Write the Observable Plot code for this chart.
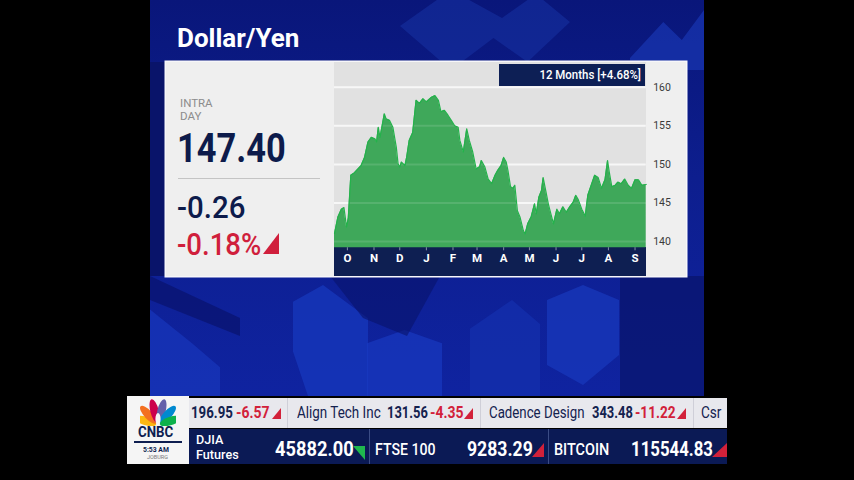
<!DOCTYPE html>
<html>
<head>
<meta charset="utf-8">
<script src="https://cdn.jsdelivr.net/npm/d3@7"></script>
<script src="https://cdn.jsdelivr.net/npm/@observablehq/plot@0.6"></script>
<style>
html,body{margin:0;padding:0;background:#000;width:854px;height:480px;overflow:hidden;font-family:Roboto,"Noto Sans",sans-serif;}
#stage{position:relative;width:854px;height:480px;background:#000;overflow:hidden;}
.a{position:absolute;}
.t{position:absolute;white-space:nowrap;line-height:1;transform-origin:left top;}
.shape{position:absolute;}
.triR{clip-path:polygon(0 100%,100% 0,100% 100%);}
.triG{clip-path:polygon(0 0,100% 0,100% 100%);}
</style>
</head>
<body>
<div id="stage">
  <!-- blue studio panel -->
  <div class="a" style="left:150px;top:0;width:554px;height:396px;background:linear-gradient(180deg,#09167a 0%,#0d1e8e 45%,#0f23a0 100%);overflow:hidden;">
    <div class="shape" style="left:250px;top:-10px;width:170px;height:80px;background:#1630a0;opacity:.6;clip-path:polygon(0 45%,30% 0,60% 35%,80% 5%,100% 40%,75% 90%,55% 60%,30% 100%);"></div>
    <div class="shape" style="left:480px;top:10px;width:74px;height:60px;background:#1836b2;opacity:.7;clip-path:polygon(0 80%,45% 20%,70% 50%,100% 0,100% 100%,0 100%);"></div>
    <div class="shape" style="left:0;top:300px;width:70px;height:96px;background:#1634b8;opacity:.8;clip-path:polygon(0 10%,60% 45%,100% 70%,100% 100%,0 100%);"></div>
    <div class="shape" style="left:0;top:276px;width:90px;height:60px;background:#08136c;opacity:.7;clip-path:polygon(0 40%,100% 100%,100% 70%,0 0);"></div>
    <div class="shape" style="left:143px;top:285px;width:75px;height:111px;background:#1738bc;opacity:.75;clip-path:polygon(0 15%,40% 0,100% 30%,100% 100%,20% 100%,0 60%);"></div>
    <div class="shape" style="left:217px;top:330px;width:75px;height:66px;background:#1839c0;opacity:.7;clip-path:polygon(0 20%,50% 0,100% 20%,100% 100%,0 100%);"></div>
    <div class="shape" style="left:180px;top:276px;width:110px;height:60px;background:#08136a;opacity:.6;clip-path:polygon(0 0,100% 0,70% 100%,30% 70%);"></div>
    <div class="shape" style="left:320px;top:300px;width:70px;height:96px;background:#1431ae;opacity:.7;clip-path:polygon(0 30%,60% 0,100% 25%,100% 100%,0 100%);"></div>
    <div class="shape" style="left:397px;top:285px;width:72px;height:100px;background:#1838bb;opacity:.75;clip-path:polygon(0 15%,50% 0,100% 15%,100% 70%,50% 100%,0 80%);"></div>
    <div class="shape" style="left:470px;top:276px;width:84px;height:120px;background:#09146a;opacity:.7;"></div>
    <div class="shape" style="left:0;top:62px;width:16px;height:214px;background:#09146a;"></div>
  </div>

  <!-- title -->
  <div class="t" style="left:177px;top:25px;font-size:26px;font-weight:700;color:#fff;">Dollar/Yen</div>

  <!-- card -->
  <div class="a" style="left:166px;top:62px;width:520px;height:214px;background:#efefef;box-shadow:0 0 0 1.5px #f7f7fa;"></div>
  <div class="a" style="left:334px;top:62px;width:311.7px;height:185.3px;background:#e1e1e1;"></div>
  <div class="a" style="left:334px;top:247.3px;width:311.7px;height:28.7px;background:#0e1f52;"></div>

  <!-- left summary -->
  <div class="t" style="left:180px;top:96.5px;font-size:11.5px;line-height:13.5px;color:#8c8c8c;">INTRA</div>
  <div class="t" style="left:180px;top:110px;font-size:11.5px;line-height:13.5px;color:#8c8c8c;">DAY</div>
  <div class="t" style="left:177px;top:129.3px;font-size:40px;font-weight:700;color:#0d1b4b;transform:scaleX(.86);">147.40</div>
  <div class="a" style="left:178px;top:178px;width:142px;height:1px;background:#c4c4c4;"></div>
  <div class="t" style="left:177px;top:191.4px;font-size:32px;font-weight:500;color:#0d1b4b;transform:scaleX(.92);">-0.26</div>
  <div class="t" style="left:177px;top:228px;font-size:32px;font-weight:500;color:#d01f3c;transform:scaleX(.86);">-0.18%</div>
  <div class="a triR" style="left:263px;top:233px;width:16px;height:21px;background:#d01f3c;"></div>

  <!-- chart -->
  <div id="chart" class="a" style="left:334px;top:62px;"></div>

  <!-- header box -->
  <div class="a" style="left:499px;top:64px;width:146px;height:22px;background:#0d1f55;"></div>
  <div class="t" style="left:641px;top:67.6px;font-size:13.5px;font-weight:500;color:#fff;transform:translateX(-100%) scaleX(.85);transform-origin:right top;">12 Months [+4.68%]</div>

  <!-- ticker -->
  <div class="a" style="left:127px;top:396px;width:62px;height:68px;background:#f5f5f5;"></div>
  <svg class="a" style="left:140px;top:399px;" width="36" height="27" viewBox="0 0 36 27">
    <g transform="translate(18,26)">
      <ellipse cx="0" cy="-13" rx="4.2" ry="11" fill="#fcb711" transform="rotate(-72)"/>
      <ellipse cx="0" cy="-14" rx="4.2" ry="11.5" fill="#f37021" transform="rotate(-43)"/>
      <ellipse cx="0" cy="-14.5" rx="4.2" ry="12" fill="#cc004c" transform="rotate(-14)"/>
      <ellipse cx="0" cy="-14.5" rx="4.2" ry="12" fill="#6460aa" transform="rotate(14)"/>
      <ellipse cx="0" cy="-14" rx="4.2" ry="11.5" fill="#0089d0" transform="rotate(43)"/>
      <ellipse cx="0" cy="-13" rx="4.2" ry="11" fill="#0db14b" transform="rotate(72)"/>
      <ellipse cx="0" cy="-6" rx="2.6" ry="6" fill="#f5f5f5"/>
    </g>
  </svg>
  <div class="t" style="left:138px;top:425.2px;font-size:14px;font-weight:700;color:#0e1e50;transform:scaleX(.95);">CNBC</div>
  <div class="a" style="left:134px;top:441px;width:48px;height:2px;background:#0e1e50;"></div>
  <div class="t" style="left:143px;top:445.5px;font-size:8px;font-weight:700;color:#0e1e50;transform:scaleX(.85);">5:53 AM</div>
  <div class="t" style="left:147px;top:455px;font-size:5.5px;color:#777;">JOBURG</div>

  <div class="a" style="left:189px;top:398px;width:538px;height:30px;background:#e8e8ed;overflow:hidden;">
    <div class="a" style="left:98px;top:0;width:1px;height:30px;background:#cfcfd8;"></div>
    <div class="a" style="left:291px;top:0;width:1px;height:30px;background:#cfcfd8;"></div>
    <div class="a" style="left:504px;top:0;width:1px;height:30px;background:#cfcfd8;"></div>
  </div>
  <div class="t" style="left:191px;top:404.2px;font-size:17px;font-weight:700;color:#14224f;transform:scaleX(.78);">196.95</div>
  <div class="t" style="left:236px;top:404.2px;font-size:17px;font-weight:700;color:#d2213a;transform:scaleX(.82);">-6.57</div>
  <div class="a triR" style="left:272px;top:408px;width:9px;height:11px;background:#d2213a;"></div>
  <div class="t" style="left:297px;top:404.2px;font-size:17px;color:#14224f;transform:scaleX(.79);">Align Tech Inc</div>
  <div class="t" style="left:387px;top:404.2px;font-size:17px;font-weight:700;color:#14224f;transform:scaleX(.76);">131.56</div>
  <div class="t" style="left:430px;top:404.2px;font-size:17px;font-weight:700;color:#d2213a;transform:scaleX(.82);">-4.35</div>
  <div class="a triR" style="left:464px;top:408px;width:9px;height:11px;background:#d2213a;"></div>
  <div class="t" style="left:489px;top:404.2px;font-size:17px;color:#14224f;transform:scaleX(.78);">Cadence Design</div>
  <div class="t" style="left:592px;top:404.2px;font-size:17px;font-weight:700;color:#14224f;transform:scaleX(.76);">343.48</div>
  <div class="t" style="left:635px;top:404.2px;font-size:17px;font-weight:700;color:#d2213a;transform:scaleX(.8);">-11.22</div>
  <div class="a triR" style="left:677px;top:408px;width:9px;height:11px;background:#d2213a;"></div>
  <div class="t" style="left:701px;top:404.2px;font-size:17px;color:#14224f;transform:scaleX(.8);">Csr</div>

  <div class="a" style="left:189px;top:429px;width:538px;height:35px;background:#0b1a55;overflow:hidden;">
    <div class="a" style="left:180px;top:0;width:1px;height:35px;background:#3b4c85;"></div>
    <div class="a" style="left:359px;top:0;width:1px;height:35px;background:#3b4c85;"></div>
    <div class="a triR" style="left:523px;top:14px;width:15px;height:14px;background:#d2213a;"></div>
  </div>
  <div class="t" style="left:196px;top:431.8px;font-size:13px;line-height:15.4px;font-weight:500;color:#fff;transform:scaleX(.97);">DJIA</div>
  <div class="t" style="left:196px;top:447.2px;font-size:13px;line-height:15.4px;font-weight:500;color:#fff;transform:scaleX(.97);">Futures</div>
  <div class="t" style="left:275px;top:439.3px;font-size:21px;font-weight:700;color:#fff;transform:scaleX(.87);">45882.00</div>
  <div class="a triG" style="left:353px;top:446px;width:12px;height:14px;background:#1fb84e;"></div>
  <div class="t" style="left:375px;top:440.7px;font-size:17px;font-weight:500;color:#fff;transform:scaleX(.83);">FTSE 100</div>
  <div class="t" style="left:467px;top:439.3px;font-size:21px;font-weight:700;color:#fff;transform:scaleX(.84);">9283.29</div>
  <div class="a triR" style="left:532px;top:443px;width:12px;height:14px;background:#d2213a;"></div>
  <div class="t" style="left:554px;top:440.7px;font-size:17px;font-weight:500;color:#fff;transform:scaleX(.85);">BITCOIN</div>
  <div class="t" style="left:631px;top:439.3px;font-size:21px;font-weight:700;color:#fff;transform:scaleX(.8);">115544.83</div>
</div>

<script>
// USD/JPY, 12 months
const dates = [
  "2024-09-16","2024-09-20","2024-09-24","2024-09-27","2024-09-30",
  "2024-10-02","2024-10-05","2024-10-09","2024-10-17","2024-10-21","2024-10-25","2024-10-29",
  "2024-11-02","2024-11-04","2024-11-06","2024-11-08","2024-11-09","2024-11-13","2024-11-15","2024-11-19","2024-11-23","2024-11-27","2024-11-29",
  "2024-12-01","2024-12-03","2024-12-07","2024-12-09","2024-12-12","2024-12-16","2024-12-20","2024-12-24","2024-12-28",
  "2025-01-01","2025-01-07","2025-01-11","2025-01-15","2025-01-18","2025-01-22","2025-01-26","2025-01-30",
  "2025-02-03","2025-02-07","2025-02-09","2025-02-13","2025-02-17","2025-02-20","2025-02-24","2025-02-28",
  "2025-03-04","2025-03-06","2025-03-10","2025-03-14","2025-03-18","2025-03-22","2025-03-25","2025-03-29",
  "2025-04-01","2025-04-04","2025-04-06","2025-04-09","2025-04-12","2025-04-14","2025-04-17","2025-04-20","2025-04-24","2025-04-26","2025-04-29",
  "2025-05-03","2025-05-07","2025-05-09","2025-05-12","2025-05-15","2025-05-17","2025-05-20","2025-05-23","2025-05-26","2025-05-29",
  "2025-06-02","2025-06-05","2025-06-09","2025-06-13","2025-06-17","2025-06-21","2025-06-24","2025-06-27",
  "2025-07-01","2025-07-05","2025-07-08","2025-07-12","2025-07-16","2025-07-20","2025-07-24","2025-07-28","2025-07-31",
  "2025-08-02","2025-08-05","2025-08-09","2025-08-12","2025-08-16","2025-08-20","2025-08-24","2025-08-28",
  "2025-09-01","2025-09-05","2025-09-09","2025-09-14"
];
const values = [
  141.05,143.2,144.2,144.4,141.9,
  143.0,148.6,148.9,149.85,150.9,152.9,153.5,
  153.3,152.9,154.8,153.5,154.1,156.55,155.9,155.7,154.8,152.2,150.1,
  149.65,150.3,149.85,150.9,153.1,154.1,158.3,157.9,158.5,
  158.1,158.7,158.9,158.3,156.8,157.0,156.4,155.7,
  155.0,154.8,153.1,151.6,154.6,153.1,151.6,149.4,
  149.7,150.5,149.7,148.1,147.5,148.6,149.2,149.85,
  150.9,150.3,149.2,147.1,146.9,147.3,144.0,143.2,141.4,141.0,142.3,
  143.2,144.9,143.6,145.75,146.6,148.3,146.6,144.9,143.6,142.3,
  144.2,143.6,144.5,143.8,144.5,145.1,146.0,145.4,
  144.2,143.3,146.0,147.3,148.6,148.3,146.9,148.0,150.5,
  149.0,147.1,147.3,147.7,147.5,148.1,147.3,146.9,
  148.0,148.0,147.3,147.4
];
const yTicks = [140, 145, 150, 155, 160];
const monthTicks = ["2024-10-01","2024-11-01","2024-12-01","2025-01-01","2025-02-01","2025-03-01","2025-04-01","2025-05-01","2025-06-01","2025-07-01","2025-08-01","2025-09-01"];
const monthLabels = ["O","N","D","J","F","M","A","M","J","J","A","S"];
const xDomain = ["2024-09-16", "2025-09-14"];
const yDomain = [139.2, 162];

const data = dates.map((d, i) => ({date: new Date(d), value: values[i]}));
const tickDates = monthTicks.map(d => new Date(d));
const labelByTime = new Map(tickDates.map((d, i) => [+d, monthLabels[i]]));

const chart = Plot.plot({
  width: 352,
  height: 214,
  marginLeft: 0,
  marginRight: 40.3,
  marginTop: 9.2,
  marginBottom: 28.7,
  style: {background: "transparent", fontFamily: "Roboto, sans-serif", overflow: "visible"},
  x: {type: "utc", domain: xDomain.map(d => new Date(d))},
  y: {domain: yDomain},
  marks: [
    Plot.gridY(yTicks, {stroke: "#f6f6f6", strokeOpacity: 1, strokeWidth: 2}),
    Plot.areaY(data, {x: "date", y1: yDomain[0], y2: "value", fill: "#3fa85a"}),
    Plot.gridY(yTicks, {stroke: "#ffffff", strokeOpacity: 0.12, strokeWidth: 2}),
    Plot.lineY(data, {x: "date", y: "value", stroke: "#24b24b", strokeWidth: 1.2}),
    Plot.axisY(yTicks, {anchor: "right", tickSize: 0, tickPadding: 7, fontSize: 10.5, color: "#3a3a3a", label: null}),
    Plot.axisX(tickDates, {anchor: "bottom", tickSize: 3, tickPadding: 3, fontSize: 11.5, fontWeight: 700, color: "#ffffff", strokeOpacity: 0.5, tickFormat: d => labelByTime.get(+d), label: null})
  ]
});
document.getElementById("chart").appendChild(chart);
</script>
</body>
</html>
